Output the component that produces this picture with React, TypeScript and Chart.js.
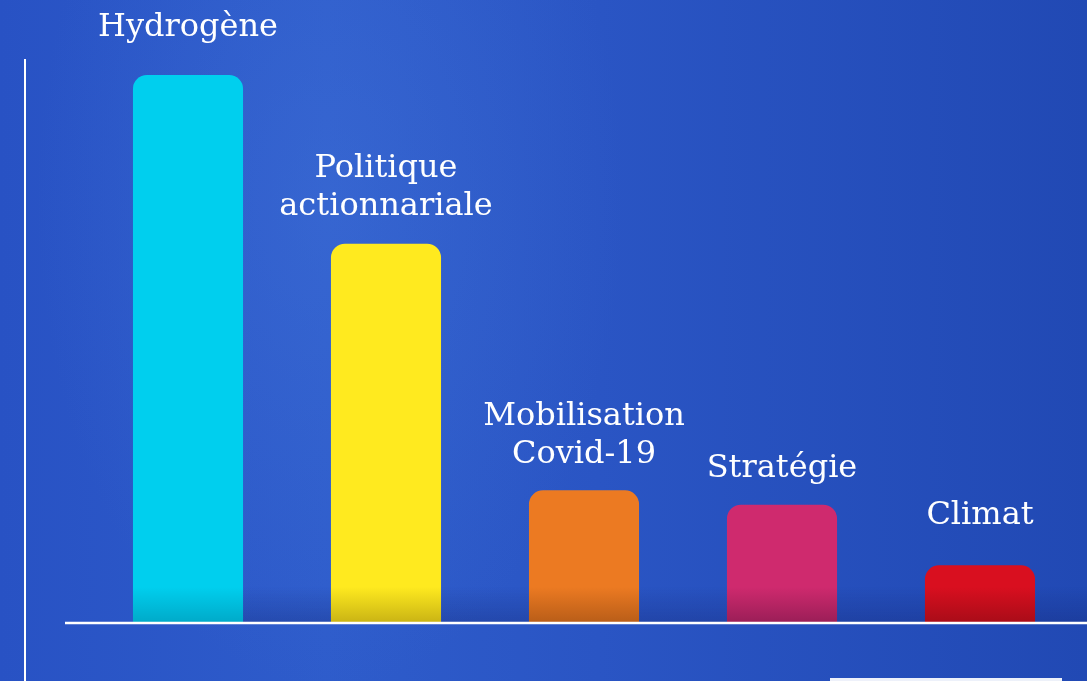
import React, { useEffect, useRef } from "react";
import { Chart, registerables } from "chart.js";

Chart.register(...registerables);

const categories: string[][] = [
  ["Hydrogène"],
  ["Politique", "actionnariale"],
  ["Mobilisation", "Covid-19"],
  ["Stratégie"],
  ["Climat"],
];
const values: number[] = [38, 26.3, 9.2, 8.2, 4];
const barColors: string[] = ["#00cfee", "#ffea1f", "#ec7a22", "#cf2a6e", "#d90f1f"];
const barShadeColors: string[] = ["#00a9c8", "#c9b314", "#b85d18", "#9a1e57", "#a80c18"];
const labelGaps: number[] = [39, 29, 27, 28, 41];

const decorPlugin = {
  id: "decor",
  beforeDatasetsDraw(chart: any) {
    const { ctx, chartArea } = chart;
    const meta = chart.getDatasetMeta(0);
    const first = meta.data[0];
    const startX = first ? first.x : 133;
    ctx.save();
    const g = ctx.createLinearGradient(0, chartArea.bottom - 36, 0, chartArea.bottom);
    g.addColorStop(0, "rgba(15,30,100,0)");
    g.addColorStop(1, "rgba(15,30,100,0.28)");
    ctx.fillStyle = g;
    ctx.fillRect(startX, chartArea.bottom - 36, chart.width - startX, 36);
    ctx.restore();
  },
  afterDatasetsDraw(chart: any) {
    const { ctx, chartArea } = chart;
    const meta = chart.getDatasetMeta(0);
    ctx.save();
    // baseline
    ctx.strokeStyle = "#ffffff";
    ctx.lineWidth = 2.5;
    ctx.beginPath();
    ctx.moveTo(65, chartArea.bottom);
    ctx.lineTo(chart.width, chartArea.bottom);
    ctx.stroke();
    // vertical line
    ctx.lineWidth = 2;
    ctx.beginPath();
    ctx.moveTo(25, 59);
    ctx.lineTo(25, chart.height);
    ctx.stroke();
    // bottom box edge
    ctx.fillStyle = "rgba(255,255,255,0.92)";
    ctx.fillRect(830, 678, 232, 3);
    // labels
    ctx.fillStyle = "#ffffff";
    ctx.font = "32px 'DejaVu Serif'";
    ctx.textAlign = "center";
    ctx.textBaseline = "alphabetic";
    const lh = 38;
    meta.data.forEach((bar: any, i: number) => {
      const lines = categories[i];
      const baseY = bar.y - labelGaps[i];
      for (let k = 0; k < lines.length; k++) {
        const y = baseY - (lines.length - 1 - k) * lh;
        ctx.fillText(lines[k], bar.x, y);
      }
    });
    ctx.restore();
  },
};

export default function App() {
  const ref = useRef<HTMLCanvasElement>(null);
  useEffect(() => {
    if (!ref.current) return;
    const chart = new Chart(ref.current, {
      type: "bar",
      data: {
        labels: categories.map((c) => c.join(" ")),
        datasets: [
          {
            data: values,
            backgroundColor: (c: any) => {
              const area = c.chart.chartArea;
              const i = c.dataIndex;
              if (!area) return barColors[i];
              const g = c.chart.ctx.createLinearGradient(0, area.top, 0, area.bottom);
              const f = (area.bottom - area.top - 36) / (area.bottom - area.top);
              g.addColorStop(0, barColors[i]);
              g.addColorStop(f, barColors[i]);
              g.addColorStop(1, barShadeColors[i]);
              return g;
            },
            borderRadius: 14,
            borderSkipped: "bottom",
            barPercentage: 0.556,
            categoryPercentage: 1,
          },
        ],
      },
      options: {
        responsive: false,
        animation: false,
        maintainAspectRatio: false,
        layout: { padding: { left: 89, right: 8, top: 0, bottom: 58 } },
        plugins: { legend: { display: false }, tooltip: { enabled: false } },
        scales: {
          x: { display: false },
          y: { display: false, min: 0, max: 43.2 },
        },
      },
      plugins: [decorPlugin],
    });
    return () => chart.destroy();
  }, []);
  return (
    <div
      style={{
        position: "fixed",
        left: 0,
        top: 0,
        width: 1087,
        height: 681,
        overflow: "hidden",
        background:
          "radial-gradient(ellipse 420px 700px at 330px 200px, rgba(70,120,220,0.35), rgba(70,120,220,0) 70%), linear-gradient(90deg, #2852c4 0%, #2e5ccb 30%, #2a55c4 55%, #2149b4 100%)",
      }}
    >
      <canvas ref={ref} width={1087} height={681} style={{ display: "block" }} />
    </div>
  );
}
